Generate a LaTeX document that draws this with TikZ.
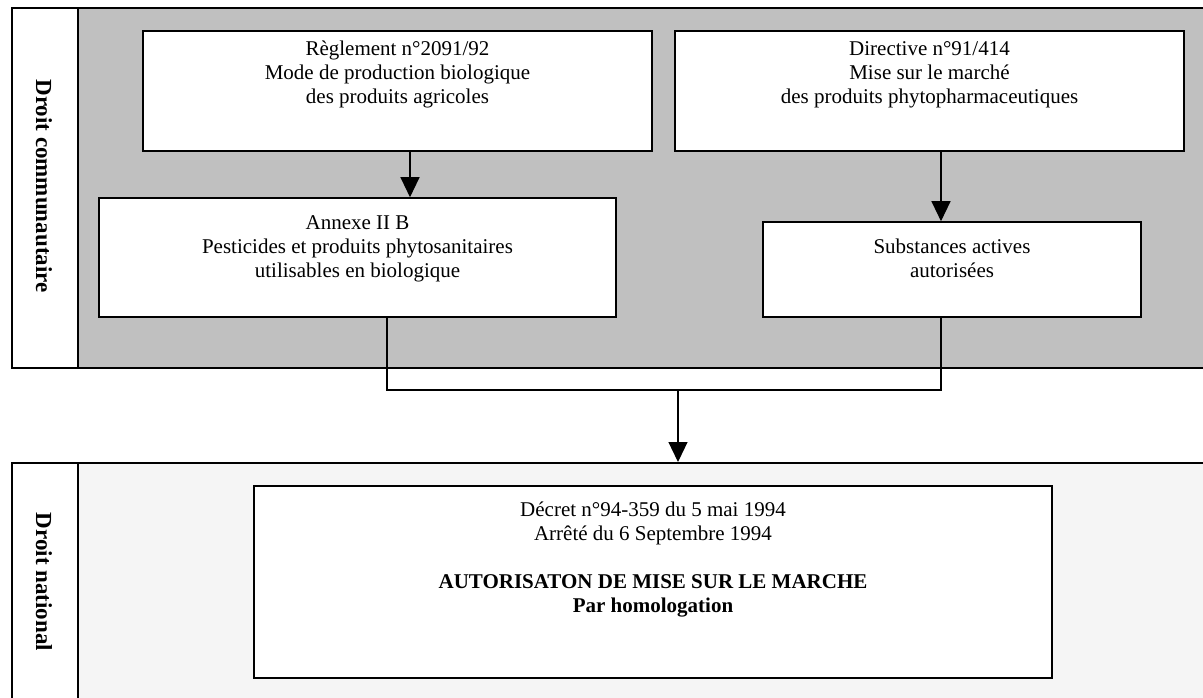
\documentclass[tikz,border=0pt]{standalone}
\usepackage{fontspec}
\setmainfont{Liberation Serif}
\usetikzlibrary{arrows.meta}
\definecolor{panelgray}{HTML}{C0C0C0}
\definecolor{panellight}{HTML}{F5F5F5}

\begin{document}
\begin{tikzpicture}[x=1pt, y=-1pt,
  panel/.style={draw=black, line width=2pt, inner sep=0pt, anchor=north west},
  strip/.style={panel, fill=white},
  box/.style={draw=black, line width=1.6pt, fill=white, inner sep=0pt},
  boxtext/.style={anchor=north, inner sep=0pt, align=center,
    font=\fontsize{21}{24}\selectfont},
  sidelabel/.style={rotate=-90, inner sep=0pt,
    font=\fontsize{23}{26}\selectfont\bfseries},
  link/.style={draw=black, line width=1.2pt},
  arr/.style={link, -{Triangle[width=19pt, length=20pt]}}]

\useasboundingbox (0,0) rectangle (1203,697);
\clip (0,0) rectangle (1203,697);

% Community law band
\node[panel, fill=panelgray, minimum width=1200pt, minimum height=360pt] (comm) at (77,7) {};
\node[strip, minimum width=66pt, minimum height=360pt] (commstrip) at (11,7) {};
\node[sidelabel] (commlbl) at (44,186) {Droit communautaire};

% National law band
\node[panel, fill=panellight, line width=1.5pt, minimum width=1200pt, minimum height=240pt] (nat) at (77,462) {};
\node[strip, line width=1.5pt, minimum width=66pt, minimum height=240pt] (natstrip) at (11,462) {};
\node[sidelabel] (natlbl) at (44,582) {Droit national};

% Boxes
\node[box, minimum width=509pt, minimum height=120pt] (reg) at (397.5,91) {};
\node[box, minimum width=509pt, minimum height=120pt] (dir) at (929.5,91) {};
\node[box, minimum width=517pt, minimum height=119pt] (ann) at (357.5,257.5) {};
\node[box, minimum width=378pt, minimum height=95pt] (sub) at (952,269.5) {};
\node[box, minimum width=798pt, minimum height=192pt] (dec) at (653,582) {};

% Box texts
\node[boxtext] (regtxt) at (397.5,38) {\strut Règlement n°2091/92\\Mode de production biologique\\des produits agricoles};
\node[boxtext] (dirtxt) at (929.5,38) {\strut Directive n°91/414\\Mise sur le marché\\des produits phytopharmaceutiques};
\node[boxtext] (anntxt) at (357.5,212) {\strut Annexe II B\\Pesticides et produits phytosanitaires\\utilisables en biologique};
\node[boxtext] (subtxt) at (952,236) {\strut Substances actives\\autorisées};
\node[boxtext] (dectxt) at (653,499) {\strut Décret n°94-359 du 5 mai 1994\\Arrêté du 6 Septembre 1994\\[24pt]
  \textbf{AUTORISATON DE MISE SUR LE MARCHE}\\\textbf{Par homologation}};

% Connectors
\coordinate (c1) at (410,0);
\coordinate (c2) at (941,0);
\coordinate (j1) at (387,390);
\coordinate (j2) at (941,390);
\coordinate (j3) at (678,390);

\draw[arr] (c1 |- reg.south) -- (c1 |- ann.north);
\draw[arr] (c2 |- dir.south) -- (c2 |- sub.north);
\draw[link] (j1 |- ann.south) -- (j1) -- (j2) -- (j2 |- sub.south);
\draw[arr] (j3) -- (j3 |- nat.north);

\end{tikzpicture}
\end{document}
